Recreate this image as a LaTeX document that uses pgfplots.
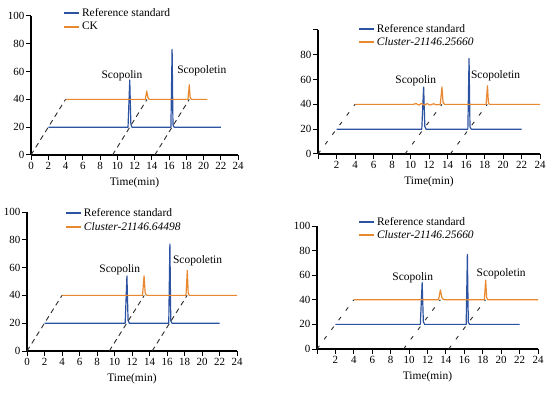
\documentclass[border=0pt]{standalone}
\usepackage{pgfplots}
\pgfplotsset{compat=1.18}
\usepackage{fontspec}
\setmainfont{Liberation Serif}
\definecolor{cblue}{HTML}{2C52A2}
\definecolor{corange}{HTML}{E8892F}
\definecolor{cdash}{HTML}{2A2A2A}
\tikzset{lab/.style={font=\fontsize{11.5}{13}\selectfont, inner sep=0pt}}
\pgfplotsset{legend image code/.code={\draw[#1, line width=1.8pt] (0bp,0bp) -- (15bp,0bp);}}
\pgfplotsset{
  chrom/.style={
    scale only axis,
    axis lines*=left,
    xmin=0, xmax=24, ymin=0, ymax=100,
    xtick={0,2,...,24}, ytick={0,20,...,100},
    tick align=outside, major tick length=5bp,
    tick style={black, line width=1pt},
    axis line style={black, line width=1.2pt},
    clip=false,
    /pgf/number format/assume math mode=true,
    ticklabel style={font=\fontsize{11}{12}\selectfont},
    xticklabel style={inner sep=2.5pt},
    yticklabel style={inner sep=1.5pt},
    xlabel={Time(min)},
    xlabel style={at={(axis description cs:0.5,0)}, anchor=center, yshift=-28bp,
      font=\fontsize{11.5}{13}\selectfont, inner sep=0pt},
    legend cell align=left,
    legend style={draw=none, fill=none, anchor=west, inner sep=0pt,
      font=\fontsize{11.5}{13}\selectfont, row sep=0pt,
      nodes={inner sep=2pt}},
  },
  blueline/.style={cblue, line width=1.2pt, line join=round},
  orangeline/.style={corange, line width=1.2pt, line join=round},
  dashline/.style={cdash, line width=0.9pt, dash pattern=on 5bp off 4bp, forget plot},
  sparse/.style={cdash, line width=0.9pt, dash pattern=on 4bp off 8bp, forget plot},
}
\begin{document}
\begin{tikzpicture}
\useasboundingbox (0bp,0bp) rectangle (550bp,393bp);
% ---------------- Panel 1 ----------------
\begin{axis}[chrom, at={(31bp,238bp)}, anchor=south west, width=207bp, height=139bp,
  legend style={at={(0.155,0.972)}}]
\addplot[blueline] coordinates {(2,20) (11.25,20) (11.45,54) (11.58,22) (11.62,21.5) (11.7,20) (16.22,20) (16.36,76) (16.46,22) (16.5,21) (16.6,20) (22,20)};
\addlegendentry{Reference standard}
\addplot[orangeline] coordinates {(4,40) (13.25,40) (13.42,46) (13.55,41.5) (13.7,40) (18.2,40) (18.35,50.5) (18.45,41.5) (18.6,40) (20.45,40)};
\addlegendentry{CK}
\addplot[dashline] coordinates {(0,0) (4,40)};
\addplot[dashline] coordinates {(9.45,0) (13.45,40)};
\addplot[dashline] coordinates {(14.35,0) (18.35,40)};
\node[lab] at (axis cs:10.55,56.8) {Scopolin};
\node[lab] at (axis cs:19.8,60.6) {Scopoletin};
\end{axis}
% ---------------- Panel 2 ----------------
\begin{axis}[chrom, at={(318bp,239bp)}, anchor=south west, width=222bp, height=124bp,
  xticklabels={,2,4,6,8,10,12,14,16,18,20,22,24},
  yticklabels={0,20,40,60,80,},
  legend style={at={(0.18,0.956)}}]
\addplot[blueline] coordinates {(2,20) (11.22,20) (11.42,54) (11.55,22) (11.6,21.5) (11.68,20) (16.2,20) (16.33,77) (16.43,22) (16.48,21) (16.58,20) (22,20)};
\addlegendentry{Reference standard}
\addplot[orangeline] coordinates {(4,40) (10.3,40) (10.6,40.7) (10.9,39.4) (11.2,40.8) (11.5,39.3) (11.8,40.6) (12.1,39.5) (12.5,40.5) (12.8,39.6) (13.22,40) (13.4,54) (13.52,41.5) (13.7,40) (18.17,40) (18.32,55) (18.42,41.5) (18.55,40) (24,40)};
\addlegendentry{\textit{Cluster-21146.25660}}
\addplot[sparse] coordinates {(0,0) (4,40)};
\addplot[sparse] coordinates {(9.4,0) (13.4,40)};
\addplot[sparse] coordinates {(14.3,0) (18.3,40)};
\node[lab] at (axis cs:10.57,59) {Scopolin};
\node[lab] at (axis cs:19.2,62.9) {Scopoletin};
\end{axis}
% ---------------- Panel 3 ----------------
\begin{axis}[chrom, at={(27bp,42bp)}, anchor=south west, width=210bp, height=139bp,
  legend style={at={(0.181,0.942)}}]
\addplot[blueline] coordinates {(2,20) (11.22,20) (11.42,54) (11.55,22) (11.6,21.5) (11.68,20) (16.2,20) (16.33,77) (16.43,22) (16.48,21) (16.58,20) (22,20)};
\addlegendentry{Reference standard}
\addplot[orangeline] coordinates {(4,40) (13.2,40) (13.38,54) (13.5,42) (13.6,40.5) (13.75,40) (18.17,40) (18.32,58) (18.42,42) (18.55,40) (24,40)};
\addlegendentry{\textit{Cluster-21146.64498}}
\addplot[dashline] coordinates {(0,0) (4,40)};
\addplot[dashline] coordinates {(9.4,0) (13.4,40)};
\addplot[dashline] coordinates {(14.3,0) (18.3,40)};
\node[lab] at (axis cs:10.6,58.8) {Scopolin};
\node[lab] at (axis cs:19.5,64.7) {Scopoletin};
\end{axis}
% ---------------- Panel 4 ----------------
\begin{axis}[chrom, at={(317bp,44bp)}, anchor=south west, width=221bp, height=123bp,
  xticklabels={,2,4,6,8,10,12,14,16,18,20,22,24},
  legend style={at={(0.186,0.98)}}]
\addplot[blueline] coordinates {(2,20) (11.22,20) (11.42,54) (11.55,22) (11.6,21.5) (11.68,20) (16.2,20) (16.33,77) (16.43,22) (16.48,21) (16.58,20) (22,20)};
\addlegendentry{Reference standard}
\addplot[orangeline] coordinates {(4,40) (13.2,40) (13.4,48) (13.55,42) (13.7,40.5) (13.85,40) (18.17,40) (18.32,56) (18.42,42) (18.55,40) (24,40)};
\addlegendentry{\textit{Cluster-21146.25660}}
\addplot[sparse] coordinates {(0,0) (4,40)};
\addplot[sparse] coordinates {(9.4,0) (13.4,40)};
\addplot[sparse] coordinates {(14.3,0) (18.3,40)};
\node[lab] at (axis cs:10.4,58.3) {Scopolin};
\node[lab] at (axis cs:20.0,61.2) {Scopoletin};
\end{axis}
\end{tikzpicture}
\end{document}
